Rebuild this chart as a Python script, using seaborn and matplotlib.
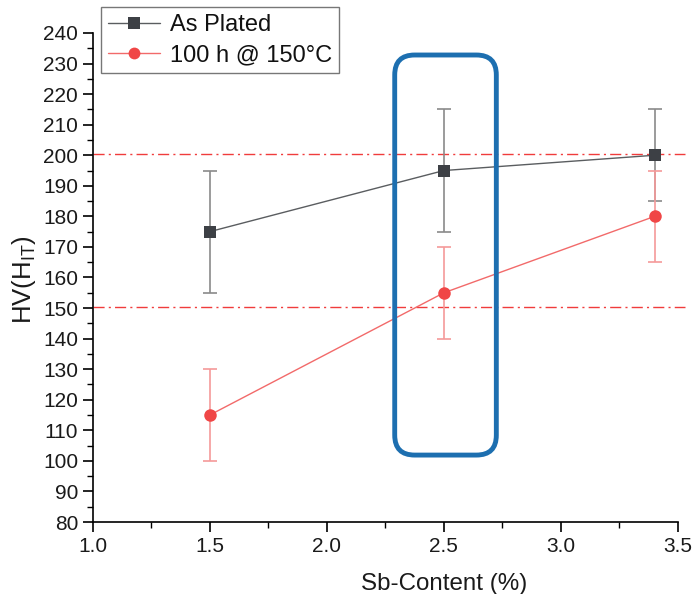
import matplotlib
matplotlib.use("Agg")
import matplotlib.pyplot as plt
import seaborn as sns
import pandas as pd
from matplotlib.patches import FancyBboxPatch
from matplotlib.ticker import MultipleLocator, FormatStrFormatter
from matplotlib.lines import Line2D

sns.set_theme(style="ticks")
plt.rcParams['font.family'] = ['Liberation Sans', 'DejaVu Sans']
plt.rcParams['mathtext.fontset'] = 'custom'
plt.rcParams['mathtext.rm'] = 'Liberation Sans'
plt.rcParams['mathtext.it'] = 'Liberation Sans'

sb_content = [1.5, 2.5, 3.4]
as_plated = [175, 195, 200]
as_plated_err = [20, 20, 15]
aged = [115, 155, 180]
aged_err = [15, 15, 15]
series_names = ["As Plated", "100 h @ 150°C"]
ref_lines = [200.3, 150.5]

df = pd.DataFrame({
    "x": sb_content * 2,
    "y": as_plated + aged,
    "series": [series_names[0]] * 3 + [series_names[1]] * 3,
})

black = "#3d4045"
red = "#f04646"
black_line = "#5a5d60"
red_line = "#f26a6a"

fig = plt.figure(figsize=(6.92, 5.94), dpi=100)
# axes: x 92.7..678 px, y 33..522 px
ax = fig.add_axes([92.7 / 692, 1 - 522 / 594, (678 - 92.7) / 692, (522 - 33) / 594])

for yv in ref_lines:
    ax.axhline(yv, xmin=0, xmax=1.012, color="#f03c3c", lw=1.0,
               ls=(0, (8, 3, 1.5, 3)), zorder=1, clip_on=False)

ax.errorbar(sb_content, as_plated, yerr=as_plated_err, fmt="none",
            ecolor="#8a8a8a", elinewidth=1.2, capsize=5, capthick=1.2, zorder=2)
ax.errorbar(sb_content, aged, yerr=aged_err, fmt="none",
            ecolor="#f59a9a", elinewidth=1.2, capsize=5, capthick=1.2, zorder=2)

n_before = len(ax.get_lines())
sns.lineplot(data=df, x="x", y="y", hue="series", style="series",
             palette={series_names[0]: black, series_names[1]: red},
             markers={series_names[0]: "s", series_names[1]: "o"},
             dashes=False, markersize=9, markeredgewidth=0, linewidth=1,
             ax=ax, legend=False, zorder=3)
for ln, lc, mc in zip(ax.get_lines()[n_before:], [black_line, red_line], [black, red]):
    ln.set_color(lc)
    ln.set_markerfacecolor(mc)
    ln.set_markeredgecolor(mc)

ax.set_xlim(1.0, 3.5)
ax.set_ylim(80, 240)
ax.xaxis.set_major_locator(MultipleLocator(0.5))
ax.xaxis.set_minor_locator(MultipleLocator(0.25))
ax.yaxis.set_major_locator(MultipleLocator(10))
ax.yaxis.set_minor_locator(MultipleLocator(5))
ax.tick_params(axis="both", which="major", length=7, width=1.2, labelsize=15,
               color="black", labelcolor="#1a1a1a", direction="out")
ax.tick_params(axis="both", which="minor", length=4, width=1.0, color="black")
ax.xaxis.set_major_formatter(FormatStrFormatter("%.1f"))
for s in ["top", "right"]:
    ax.spines[s].set_visible(False)
for s in ["left", "bottom"]:
    ax.spines[s].set_color("black")
    ax.spines[s].set_linewidth(1.2)

ax.set_xlabel("Sb-Content (%)", fontsize=17.4, color="#1a1a1a")
ax.xaxis.set_label_coords(0.600, -0.105)
ax.set_ylabel(r"HV(H$_{\mathrm{IT}}$)", fontsize=18.5, color="#1a1a1a")
ax.yaxis.set_label_coords(-0.093, 0.495)

# rounded highlight box
x0, x1 = 2.290, 2.724
y0, y1 = 101.9, 232.8
aspect = 234.1 / 3.056
box = FancyBboxPatch((x0, y0), x1 - x0, y1 - y0,
                     boxstyle="round,pad=0,rounding_size=0.085",
                     mutation_aspect=aspect, fill=False,
                     edgecolor="#1d6fb0", linewidth=3.5, zorder=5,
                     clip_on=False)
ax.add_patch(box)

# legend
handles = [
    Line2D([], [], color=black_line, lw=1, marker="s", markersize=8,
           markerfacecolor=black, markeredgewidth=0),
    Line2D([], [], color=red_line, lw=1, marker="o", markersize=8.5,
           markerfacecolor=red, markeredgewidth=0),
]
leg = fig.legend(handles, series_names, loc="upper left",
                 bbox_to_anchor=(101 / 692, 1 - 7 / 594), bbox_transform=fig.transFigure,
                 fontsize=17, frameon=True, fancybox=False, handlelength=2.2,
                 borderpad=0.3, labelspacing=0.35, handletextpad=0.42,
                 borderaxespad=0)
leg.get_frame().set_edgecolor("#555555")
leg.get_frame().set_linewidth(1.0)
for t in leg.get_texts():
    t.set_color("#111111")

fig.savefig("out.png", dpi=100)
